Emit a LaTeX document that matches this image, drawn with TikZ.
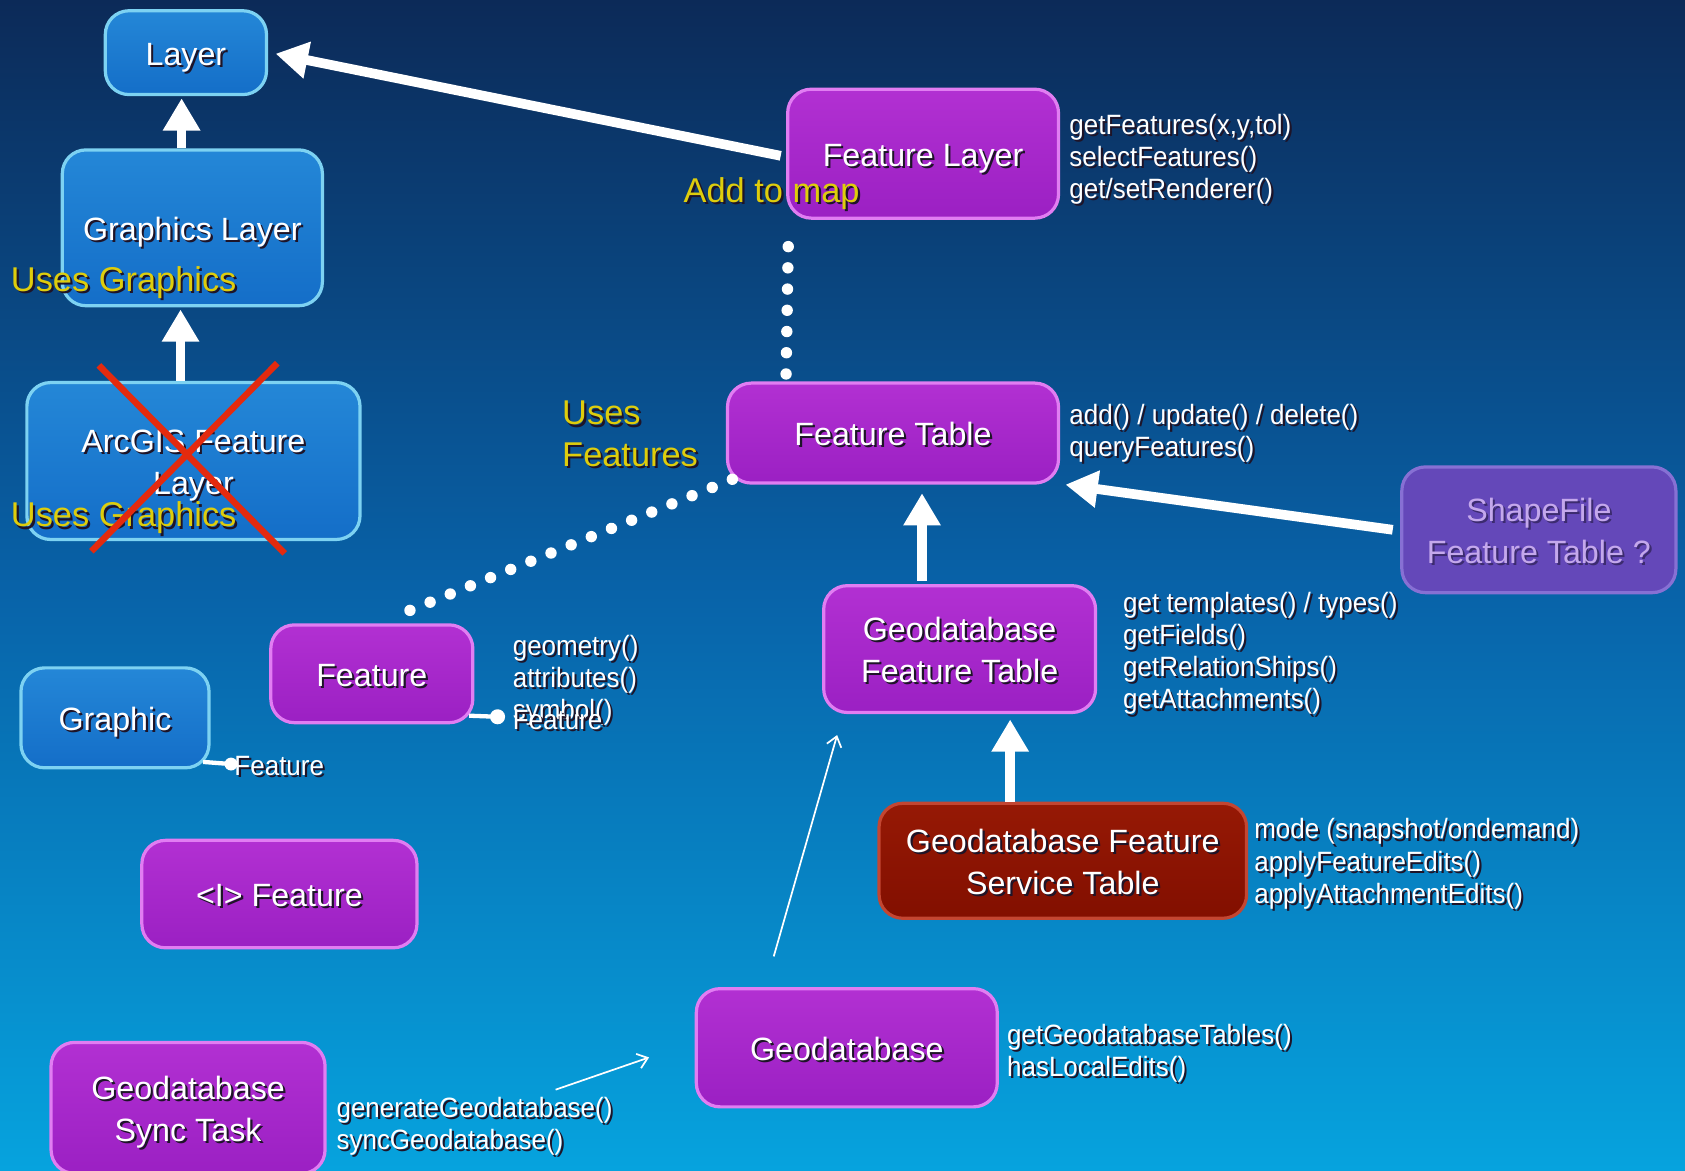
\documentclass[tikz,border=0pt]{standalone}
\usepackage{fontspec}
\setmainfont{Liberation Sans}
\newfontfamily\narrowfont[FakeStretch=0.93]{Liberation Sans}
\usetikzlibrary{arrows.meta,calc}
\definecolor{bgtop}{RGB}{12,42,88}
\definecolor{bgmid}{RGB}{8,98,168}
\definecolor{bgbot}{RGB}{6,163,222}
\definecolor{bluetop}{RGB}{36,135,215}
\definecolor{bluebot}{RGB}{20,110,200}
\definecolor{blueborder}{RGB}{125,210,242}
\definecolor{purptop}{RGB}{178,48,210}
\definecolor{purpbot}{RGB}{155,32,195}
\definecolor{purpleborder}{RGB}{225,125,242}
\definecolor{redtop}{RGB}{150,25,5}
\definecolor{redbot}{RGB}{130,15,0}
\definecolor{redborder}{RGB}{195,70,50}
\definecolor{shapefill}{RGB}{100,72,185}
\definecolor{shapeborder}{RGB}{135,112,212}
\definecolor{shapetext}{RGB}{196,168,236}
\definecolor{yel}{RGB}{222,205,12}
\definecolor{crossred}{RGB}{228,42,14}
\definecolor{shadowc}{RGB}{30,20,40}
\newcommand\shw[2][shadowc]{\leavevmode\rlap{\kern2pt\raisebox{-2pt}{\color{#1}#2}}#2}
\newcommand\bt[1]{\raisebox{-4pt}[\height][\depth]{\begin{tabular}{@{}c@{}}#1\end{tabular}}}
\begin{document}
\begin{tikzpicture}[x=1pt,y=-1pt,
  box/.style={rounded corners=22pt, line width=3pt, text=white,
    font=\fontsize{30}{39}\selectfont, inner sep=0pt},
  bluebox/.style={box, draw=blueborder, top color=bluetop, bottom color=bluebot},
  purplebox/.style={box, draw=purpleborder, top color=purptop, bottom color=purpbot},
  redbox/.style={box, draw=redborder, top color=redtop, bottom color=redbot},
  shapebox/.style={box, draw=shapeborder, fill=shapefill, text=shapetext},
  methods/.style={anchor=west, inner sep=0pt, align=left, text=white,
    font=\narrowfont\fontsize{26}{30}\selectfont},
  yellowtext/.style={anchor=west, inner sep=0pt, align=left, text=yel,
    font=\fontsize{32}{39}\selectfont},
  bigarrow/.style={white, line width=9pt, -{Triangle[length=30pt,width=33pt]}},
  thinarrow/.style={white, line width=1.6pt, -{Straight Barb[length=9pt,width=14pt]}},
  dotfill/.style={white},
  stub/.style={white, line width=4pt},
  crossline/.style={crossred, line width=6pt}
]
\useasboundingbox (0,0) rectangle (1568,1089);
\clip (0,0) rectangle (1568,1089);
\shade[top color=bgtop, bottom color=bgbot, middle color=bgmid] (0,0) rectangle (1568,1089);

% nodes
\node[bluebox, minimum width=150pt, minimum height=78pt] (L) at (173,49) {\bt{\shw{Layer}}};
\node[bluebox, minimum width=242pt, minimum height=145pt] (GL) at (179,212) {\bt{\shw{Graphics Layer}}};
\node[bluebox, minimum width=310pt, minimum height=146pt] (AF) at (180,429) {\bt{\shw{ArcGIS Feature}\\\shw{Layer}}};
\node[purplebox, minimum width=252pt, minimum height=120pt] (FL) at (859,143) {\bt{\shw{Feature Layer}}};
\node[purplebox, minimum width=308pt, minimum height=93pt] (FT) at (831,403) {\bt{\shw{Feature Table}}};
\node[shapebox, minimum width=255pt, minimum height=117pt] (SF) at (1432,493) {\bt{\shw[shapefill!60!black]{ShapeFile}\\\shw[shapefill!60!black]{Feature Table ?}}};
\node[purplebox, minimum width=253pt, minimum height=118pt] (GFT) at (893,604) {\bt{\shw{Geodatabase}\\\shw{Feature Table}}};
\node[redbox, minimum width=342pt, minimum height=107pt] (GFST) at (989,801) {\bt{\shw{Geodatabase Feature}\\\shw{Service Table}}};
\node[purplebox, minimum width=188pt, minimum height=91pt] (F) at (346,627) {\bt{\shw{Feature}}};
\node[bluebox, minimum width=175pt, minimum height=93pt] (G) at (107,668) {\bt{\shw{Graphic}}};
\node[purplebox, minimum width=256pt, minimum height=100pt] (IF) at (260,832) {\bt{\shw{<I> Feature}}};
\node[purplebox, minimum width=280pt, minimum height=110pt] (GDB) at (788,975) {\bt{\shw{Geodatabase}}};
\node[purplebox, minimum width=255pt, minimum height=122pt] (ST) at (175,1031) {\bt{\shw{Geodatabase}\\\shw{Sync Task}}};

% big arrows
\draw[bigarrow] ($(GL.north)+(-10,0)$) -- ($(L.south)+(-4,2)$);
\draw[bigarrow] ($(AF.north)+(-12,0)$) -- ($(GL.south)+(-11,2)$);
\draw[bigarrow] ($(FL.west)+(-5,2)$) -- ($(L.east)+(7,1)$);
\draw[bigarrow] ($(GFT.north)+(-35,-3)$) -- ($(FT.south)+(27,8)$);
\draw[bigarrow] ($(SF.west)+(-7,0)$) -- ($(FT.south east)+(5,0)$);
\draw[bigarrow] ($(GFST.north)+(-49,0)$) -- ($(GFT.south)+(47,5)$);

% dotted links
\coordinate (d1s) at ($(FL.south west)+(2,25)$);
\coordinate (d1e) at ($(FT.north west)+(56,-7)$);
\coordinate (d2s) at ($(FT.south west)+(6,-5)$);
\coordinate (d2e) at ($(F.north west)+(131,-12)$);
\foreach \i in {0,...,6} \fill[dotfill] ($(d1s)!\i/6!(d1e)$) circle[radius=5.3pt];
\foreach \i in {0,...,16} \fill[dotfill] ($(d2s)!\i/16!(d2e)$) circle[radius=5.3pt];

% stubs with dots
\coordinate (fdot) at (463,667);
\coordinate (gdot) at (215,711);
\draw[stub] ($(F.south east)+(-5,-8)$) -- (fdot);
\fill[white] (fdot) circle[radius=7pt];
\draw[stub] ($(G.south east)+(-7,-7)$) -- (gdot);
\fill[white] (gdot) circle[radius=6pt];

% thin hand-drawn arrows
\coordinate (t1s) at (720,890);
\coordinate (t1e) at (779,684);
\coordinate (t2s) at (517,1014);
\coordinate (t2e) at (604,984);
\draw[thinarrow] (t1s) -- (t1e);
\draw[thinarrow] (t2s) -- (t2e);

% method texts
\node[methods] (mFL) at (995,149) {\shw{getFeatures(x,y,tol)}\\\shw{selectFeatures()}\\\shw{get/setRenderer()}};
\node[methods] (mFT) at (995,404) {\shw{add() / update() / delete()}\\\shw{queryFeatures()}};
\node[methods] (mGFT) at (1045,609) {\shw{get templates() / types()}\\\shw{getFields()}\\\shw{getRelationShips()}\\\shw{getAttachments()}};
\node[methods] (mGFST) at (1167,805) {\shw{mode (snapshot/ondemand)}\\\shw{applyFeatureEdits()}\\\shw{applyAttachmentEdits()}};
\node[methods] (mF) at (477,634) {\shw{geometry()}\\\shw{attributes()}\\\shw{symbol()}};
\node[methods] (lF) at (477,671) {\shw{Feature}};
\node[methods] (lG) at (218,714) {\shw{Feature}};
\node[methods] (mGDB) at (937,981) {\shw{getGeodatabaseTables()}\\\shw{hasLocalEdits()}};
\node[methods] (mST) at (313,1049) {\shw{generateGeodatabase()}\\\shw{syncGeodatabase()}};

% yellow labels
\node[yellowtext] (y1) at (636,181) {\shw{Add to map}};
\node[yellowtext] (y2) at (10,264) {\shw{Uses Graphics}};
\node[yellowtext] (y3) at (10,483) {\shw{Uses Graphics}};
\node[yellowtext] (y4) at (523,405) {\shw{Uses}\\\shw{Features}};

% red cross
\draw[crossline] (92,340) -- (265,515);
\draw[crossline] (258,338) -- (85,513);
\end{tikzpicture}
\end{document}
